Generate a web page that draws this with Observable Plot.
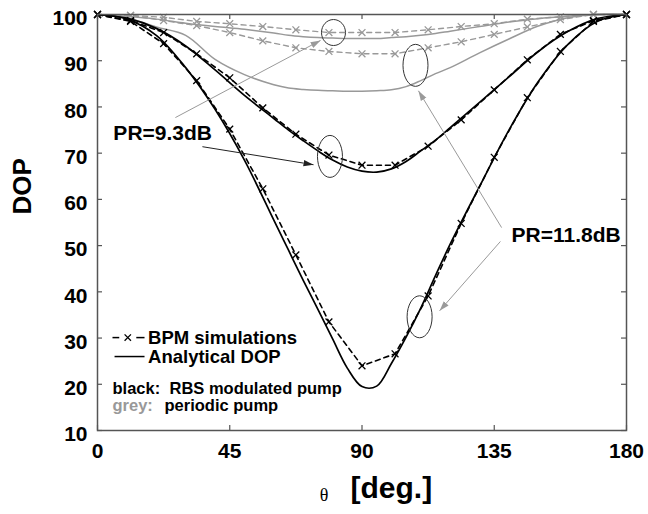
<!DOCTYPE html>
<html><head><meta charset="utf-8">
<script src="https://cdn.jsdelivr.net/npm/d3@7"></script>
<script src="https://cdn.jsdelivr.net/npm/@observablehq/plot@0.6"></script>
<style>body{margin:0;background:#fff}</style>
</head><body><div id="chart"></div>
<script>
// simulation (BPM) sample angles
const xSim = [0, 11.25, 22.5, 33.75, 45, 56.25, 67.5, 78.75, 90, 101.25, 112.5, 123.75, 135, 146.25, 157.5, 168.75, 180];
const blackSim118 = [100, 98.5, 93.7, 85.7, 75.2, 62.3, 48.0, 33.5, 24.0, 26.6, 39.1, 54.8, 69.1, 82.0, 92.0, 98.5, 100];
const blackSim93  = [100, 98.7, 96.1, 91.5, 86.3, 79.8, 74.1, 69.6, 67.4, 67.4, 71.5, 77.2, 83.7, 90.2, 95.7, 98.7, 100];
const greySim118  = [100, 99.8, 98.7, 97.6, 96.1, 94.3, 92.8, 92.0, 91.5, 91.5, 92.8, 94.1, 95.7, 97.3, 98.9, 100, 100];
const greySim93   = [100, 99.8, 99.4, 98.5, 98.0, 97.4, 96.7, 96.1, 96.1, 96.1, 96.7, 97.4, 98.0, 99.0, 99.5, 100, 100];

// analytical DOP angles
const xAna = [0, 10, 20, 30, 40, 50, 60, 65, 70, 75, 80, 85, 90, 95, 100, 105, 110, 115, 120, 130, 140, 150, 160, 170, 180];
const blackAna118 = [100, 99, 95.5, 88.5, 79.5, 68.5, 55.5, 49, 42.5, 36.2, 29.8, 23.5, 19.5, 19.6, 24.5, 30.2, 36.5, 43.5, 50.3, 62.8, 75, 85.5, 93.5, 98.5, 100];
const blackAna93  = [100, 99.2, 97, 93.2, 88, 82.5, 77.5, 75, 72.7, 70.5, 68.5, 67, 66.1, 65.9, 66.6, 68.2, 70.5, 72.8, 75.5, 81, 86.5, 92, 96.3, 99.1, 100];
const greyAna118  = [100, 99.3, 97.3, 95.5, 90.3, 87, 84.8, 84.1, 83.8, 83.6, 83.5, 83.4, 83.4, 83.5, 83.7, 84.4, 85.7, 87.2, 88.5, 91.7, 94.7, 97.5, 99.3, 100, 100];
const greyAna93   = [100, 99.6, 99, 98.1, 97.4, 96.8, 96, 95.5, 95.2, 95, 94.9, 94.8, 94.8, 94.8, 95, 95.2, 95.5, 95.9, 96.4, 97.4, 98.4, 99.1, 99.6, 100, 100];

const xTicks = [0, 45, 90, 135, 180];
const yTicks = [10, 20, 30, 40, 50, 60, 70, 80, 90, 100];

// annotations (data coordinates)
const prLabels = [{label: "PR=9.3dB", x: 5.4, y: 74.2}, {label: "PR=11.8dB", x: 140.9, y: 52.2}];
const arrowsGrey = [
  {x1: 26.5, y1: 77.7, x2: 75.9, y2: 94.4},
  {x1: 137.5, y1: 53.9, x2: 109.2, y2: 83.5},
  {x1: 137.1, y1: 50.9, x2: 116.4, y2: 35.9}
];
const arrowsBlack = [{x1: 35.7, y1: 71.4, x2: 73.5, y2: 67.5}];
const ringSmall = [{x: 80.3, y: 96.1}];
const ringTall = [{x: 79.1, y: 69.3}, {x: 108.2, y: 89.0}, {x: 109.6, y: 34.6}];

const BLACK = "#000", GREY = "#999";
const FONT = "Liberation Sans, Arial, Helvetica, sans-serif";
const rows = (xs, ys) => xs.map((x, i) => ({x, y: ys[i]}));

function ellipseSymbol(rx, ry) {
  const k = 0.5523;
  return {draw(ctx) {
    ctx.moveTo(rx, 0);
    ctx.bezierCurveTo(rx, ry * k, rx * k, ry, 0, ry);
    ctx.bezierCurveTo(-rx * k, ry, -rx, ry * k, -rx, 0);
    ctx.bezierCurveTo(-rx, -ry * k, -rx * k, -ry, 0, -ry);
    ctx.bezierCurveTo(rx * k, -ry, rx, -ry * k, rx, 0);
    ctx.closePath();
  }};
}
function filledHead(color) {
  const m = d3.create("svg:marker")
    .attr("viewBox", "-10 -4 10 8")
    .attr("markerWidth", 10).attr("markerHeight", 8)
    .attr("orient", "auto").attr("fill", color).attr("stroke", "none");
  m.append("path").attr("d", "M-10,-3.2L0,0L-10,3.2Z");
  return m.node();
}

const W = 648, H = 514, ML = 97, MR = 22, MT = 14, MB = 84;
const FW = W - ML - MR, FH = H - MT - MB;

const chart = Plot.plot({
  width: W, height: H,
  marginLeft: ML, marginRight: MR, marginTop: MT, marginBottom: MB,
  style: {fontFamily: FONT, background: "#fff", overflow: "visible"},
  x: {domain: [0, 180], axis: null},
  y: {domain: [10, 100], axis: null},
  marks: [
    // grey (periodic pump)
    Plot.line(rows(xAna, greyAna93), {x: "x", y: "y", stroke: GREY, strokeWidth: 1.5, curve: "catmull-rom"}),
    Plot.line(rows(xAna, greyAna118), {x: "x", y: "y", stroke: GREY, strokeWidth: 1.5, curve: "catmull-rom"}),
    Plot.line(rows(xSim, greySim93), {x: "x", y: "y", stroke: GREY, strokeWidth: 1.4, strokeDasharray: "5,4"}),
    Plot.line(rows(xSim, greySim118), {x: "x", y: "y", stroke: GREY, strokeWidth: 1.4, strokeDasharray: "5,4"}),
    Plot.dot(rows(xSim, greySim93), {x: "x", y: "y", symbol: "times", r: 3.2, stroke: GREY, strokeWidth: 1.3}),
    Plot.dot(rows(xSim, greySim118), {x: "x", y: "y", symbol: "times", r: 3.2, stroke: GREY, strokeWidth: 1.3}),
    // black (RBS modulated pump)
    Plot.line(rows(xAna, blackAna93), {x: "x", y: "y", stroke: BLACK, strokeWidth: 1.7, curve: "catmull-rom"}),
    Plot.line(rows(xAna, blackAna118), {x: "x", y: "y", stroke: BLACK, strokeWidth: 1.7, curve: "catmull-rom"}),
    Plot.line(rows(xSim, blackSim93), {x: "x", y: "y", stroke: BLACK, strokeWidth: 1.6, strokeDasharray: "5,4"}),
    Plot.line(rows(xSim, blackSim118), {x: "x", y: "y", stroke: BLACK, strokeWidth: 1.6, strokeDasharray: "5,4"}),
    Plot.dot(rows(xSim, blackSim93), {x: "x", y: "y", symbol: "times", r: 3.2, stroke: BLACK, strokeWidth: 1.3}),
    Plot.dot(rows(xSim, blackSim118), {x: "x", y: "y", symbol: "times", r: 3.2, stroke: BLACK, strokeWidth: 1.3}),
    // annotation rings and arrows
    Plot.dot(ringSmall, {x: "x", y: "y", r: 1, symbol: ellipseSymbol(12, 13), fill: "none", stroke: "#333", strokeWidth: 1}),
    Plot.dot(ringTall, {x: "x", y: "y", r: 1, symbol: ellipseSymbol(12.5, 21), fill: "none", stroke: "#333", strokeWidth: 1}),
    Plot.link(arrowsGrey, {x1: "x1", y1: "y1", x2: "x2", y2: "y2", stroke: "#9a9a9a", strokeWidth: 1, markerEnd: filledHead}),
    Plot.link(arrowsBlack, {x1: "x1", y1: "y1", x2: "x2", y2: "y2", stroke: "#222", strokeWidth: 1, markerEnd: filledHead}),
    Plot.text(prLabels, {x: "x", y: "y", text: "label", textAnchor: "start", fontSize: 21, fontWeight: "bold", fill: BLACK}),
    // legend
    Plot.link([{x1: 5.1, x2: 7.4, y: 30.1}, {x1: 13.2, x2: 16.0, y: 30.1}], {x1: "x1", x2: "x2", y1: "y", y2: "y", stroke: BLACK, strokeWidth: 1.5}),
    Plot.dot([{x: 10.3, y: 30.1}], {x: "x", y: "y", symbol: "times", r: 3, stroke: BLACK, strokeWidth: 1.3}),
    Plot.link([{x1: 5.8, x2: 16.0, y: 26.0}], {x1: "x1", x2: "x2", y1: "y", y2: "y", stroke: BLACK, strokeWidth: 1.5}),
    Plot.text([{t: "BPM simulations", x: 17.2, y: 30.1}, {t: "Analytical DOP", x: 17.2, y: 25.9}],
      {x: "x", y: "y", text: "t", textAnchor: "start", fontSize: 18.5, fontWeight: "bold", fill: BLACK}),
    Plot.text([{t: "black:", x: 5.1, y: 19.0, c: BLACK}, {t: "RBS modulated pump", x: 24.5, y: 19.0, c: BLACK},
               {t: "grey:", x: 5.1, y: 15.3, c: GREY}, {t: "periodic pump", x: 22.8, y: 15.3, c: BLACK}],
      {x: "x", y: "y", text: "t", fill: "c", textAnchor: "start", fontSize: 16.5, fontWeight: "bold"}),
    // frame and inner ticks
    Plot.frame({stroke: "#555", strokeWidth: 1.5}),
    Plot.tickX(xTicks, {x: d => d, insetTop: FH - 5, stroke: "#555", strokeWidth: 1.2}),
    Plot.tickX(xTicks, {x: d => d, insetBottom: FH - 5, stroke: "#555", strokeWidth: 1.2}),
    Plot.tickY(yTicks, {y: d => d, insetRight: FW - 5, stroke: "#555", strokeWidth: 1.2}),
    Plot.tickY(yTicks, {y: d => d, insetLeft: FW - 5, stroke: "#555", strokeWidth: 1.2}),
    // axes
    Plot.axisX(xTicks, {anchor: "bottom", tickSize: 0, tickPadding: 13, fontSize: 21, fontWeight: "bold", fill: BLACK, label: null}),
    Plot.axisY(yTicks, {anchor: "left", tickSize: 0, tickPadding: 10, dy: 4, fontSize: 21, fontWeight: "bold", fill: BLACK, label: null}),
    Plot.text(["DOP"], {frameAnchor: "left", dx: -75, dy: -8, rotate: -90, fontSize: 26, fontWeight: "bold", fill: BLACK}),
    Plot.text(["θ"], {frameAnchor: "bottom", dx: -38, dy: 70, fontSize: 18, fontFamily: "Liberation Serif, DejaVu Serif, serif", fill: BLACK}),
    Plot.text(["[deg.]"], {frameAnchor: "bottom", textAnchor: "start", dx: -11.5, dy: 67, fontSize: 30, fontWeight: "bold", fill: BLACK})
  ]
});
document.getElementById("chart").appendChild(chart);
</script>
</body></html>
